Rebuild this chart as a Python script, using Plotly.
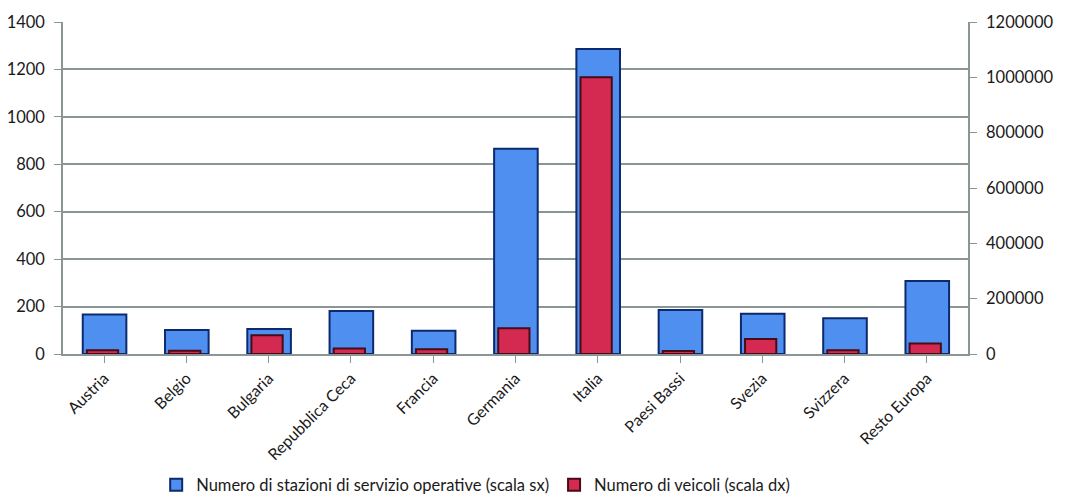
import plotly.graph_objects as go

categories = ["Austria", "Belgio", "Bulgaria", "Repubblica Ceca", "Francia", "Germania",
              "Italia", "Paesi Bassi", "Svezia", "Svizzera", "Resto Europa"]
stazioni = [167, 101, 105, 181, 98, 865, 1286, 186, 170, 151, 308]
veicoli = [14000, 12000, 68000, 20000, 17000, 93000, 1000000, 11000, 54000, 14000, 38000]

left_ticks = [0, 200, 400, 600, 800, 1000, 1200, 1400]
right_ticks = [0, 200000, 400000, 600000, 800000, 1000000, 1200000]

FONT = "Lato, Open Sans, sans-serif"
GRID = "#8a9696"

fig = go.Figure()
fig.add_trace(go.Bar(
    x=categories, y=stazioni, name="Numero di stazioni di servizio operative (scala sx)",
    marker=dict(color="#4f8ff0", line=dict(color="#0d2a6e", width=2)),
    width=0.53, offset=-0.26, yaxis="y",
))
fig.add_trace(go.Bar(
    x=categories, y=veicoli, name="Numero di veicoli (scala dx)",
    marker=dict(color="#d42a52", line=dict(color="#4a0a16", width=2)),
    width=0.38, offset=-0.21, yaxis="y2",
))

fig.update_layout(
    width=1073, height=494,
    margin=dict(l=63, r=105, t=22, b=140),
    paper_bgcolor="white", plot_bgcolor="white",
    barmode="overlay",
    font=dict(family=FONT, size=16, color="#1a1a1a"),
    showlegend=True,
    legend=dict(orientation="h", x=0.456, xanchor="center", yref="container", y=0.018,
                yanchor="middle", font=dict(size=16.5), itemwidth=30, tracegroupgap=0),
    xaxis=dict(type="category", tickangle=-45, showline=True, linecolor=GRID, linewidth=1.5,
               ticks="outside", ticklen=7, tickcolor=GRID, showgrid=False, automargin=False,
               tickfont=dict(size=16), range=[-0.5, 10.5]),
    yaxis=dict(range=[0, 1400], tickvals=left_ticks, showline=True, linecolor=GRID, linewidth=1.5,
               ticks="outside", ticklen=7, tickcolor=GRID, gridcolor=GRID, gridwidth=1.5,
               zeroline=False, tickfont=dict(size=16.5), automargin=False, ticklabelstandoff=6),
    yaxis2=dict(range=[0, 1200000], tickvals=right_ticks, overlaying="y", side="right",
                showline=True, linecolor=GRID, linewidth=1.5, ticks="outside", ticklen=7,
                tickcolor=GRID, showgrid=False, zeroline=False, tickfont=dict(size=16.5),
                tickformat="d", automargin=False, ticklabelstandoff=6),
)

fig.write_html("out.html")
